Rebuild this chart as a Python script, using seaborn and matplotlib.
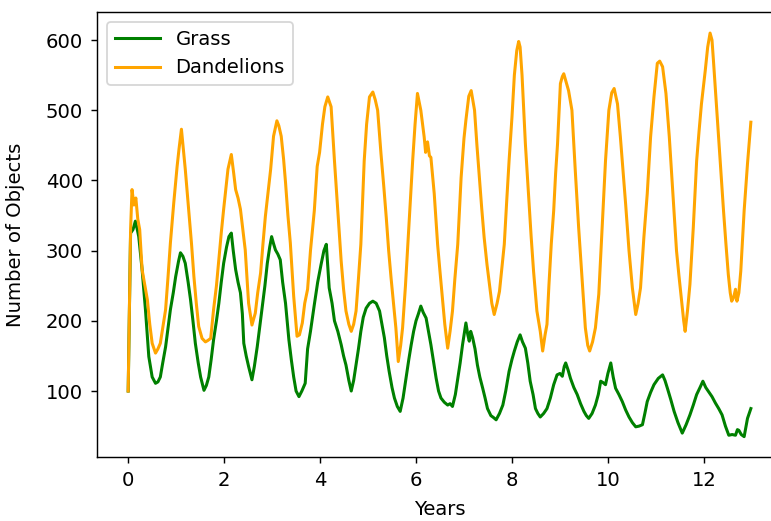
import matplotlib
matplotlib.use("Agg")
import matplotlib.pyplot as plt
import pandas as pd
import seaborn as sns

# Population counts over time (years) for the two species
grass_years = [
    0.00, 0.05, 0.10, 0.15, 0.19, 0.22, 0.29, 0.36, 0.43, 0.50, 0.57, 0.62, 0.67, 0.72, 0.78, 0.83,
    0.88, 0.94, 0.99, 1.05, 1.09, 1.14, 1.19, 1.25, 1.30, 1.35, 1.40, 1.46, 1.51, 1.58, 1.63, 1.68,
    1.73, 1.78, 1.84, 1.89, 1.94, 1.99, 2.05, 2.10, 2.15, 2.19, 2.24, 2.29, 2.34, 2.38, 2.41, 2.46,
    2.51, 2.58, 2.63, 2.69, 2.74, 2.79, 2.85, 2.90, 2.95, 2.99, 3.03, 3.07, 3.12, 3.17, 3.22, 3.28,
    3.35, 3.40, 3.45, 3.50, 3.56, 3.62, 3.69, 3.74, 3.80, 3.88, 3.95, 4.02, 4.08, 4.13, 4.19, 4.25,
    4.30, 4.37, 4.44, 4.49, 4.54, 4.60, 4.65, 4.70, 4.75, 4.80, 4.85, 4.90, 4.96, 5.03, 5.10, 5.17,
    5.24, 5.29, 5.34, 5.39, 5.44, 5.50, 5.55, 5.61, 5.67, 5.73, 5.79, 5.85, 5.90, 5.95, 6.00, 6.05,
    6.10, 6.15, 6.21, 6.26, 6.31, 6.37, 6.42, 6.47, 6.52, 6.59, 6.66, 6.71, 6.76, 6.82, 6.87, 6.92,
    6.97, 7.04, 7.08, 7.11, 7.14, 7.18, 7.23, 7.28, 7.33, 7.39, 7.44, 7.49, 7.56, 7.62, 7.67, 7.74,
    7.81, 7.87, 7.94, 8.00, 8.05, 8.11, 8.17, 8.22, 8.28, 8.33, 8.38, 8.44, 8.49, 8.54, 8.59, 8.66,
    8.73, 8.80, 8.87, 8.94, 9.00, 9.05, 9.09, 9.12, 9.17, 9.22, 9.29, 9.36, 9.43, 9.50, 9.55, 9.60,
    9.67, 9.74, 9.80, 9.85, 9.90, 9.95, 10.00, 10.06, 10.11, 10.16, 10.23, 10.30, 10.37, 10.44, 10.51,
    10.58, 10.65, 10.72, 10.77, 10.82, 10.89, 10.96, 11.05, 11.14, 11.19, 11.24, 11.31, 11.38, 11.46,
    11.55, 11.63, 11.71, 11.78, 11.85, 11.92, 11.98, 12.04, 12.10, 12.17, 12.24, 12.31, 12.38, 12.45,
    12.52, 12.59, 12.66, 12.70, 12.73, 12.78, 12.84, 12.91, 12.98,
]
grass_counts = [
    100, 325, 330, 342, 330, 320, 273, 216, 149, 120, 111, 113, 120, 140, 163, 190,
    216, 240, 263, 285, 297, 292, 282, 255, 230, 200, 168, 140, 120, 101, 108, 120,
    145, 173, 200, 225, 255, 282, 305, 320, 325, 300, 273, 255, 240, 210, 168, 150,
    135, 116, 135, 163, 190, 216, 250, 282, 305, 320, 310, 301, 295, 287, 255, 225,
    173, 145, 120, 100, 92, 100, 111, 160, 185, 223, 255, 280, 300, 309, 247, 225,
    200, 185, 166, 150, 137, 115, 100, 115, 137, 160, 185, 205, 218, 225, 228, 225,
    214, 195, 176, 150, 128, 105, 90, 78, 71, 90, 118, 145, 166, 185, 200, 210,
    221, 212, 204, 185, 166, 140, 118, 100, 90, 84, 80, 82, 78, 95, 118, 140,
    166, 197, 180, 171, 185, 176, 160, 137, 120, 104, 90, 75, 65, 62, 59, 68,
    80, 100, 128, 145, 157, 170, 180, 170, 161, 140, 114, 95, 75, 68, 63, 68,
    75, 90, 109, 123, 125, 121, 135, 140, 130, 118, 105, 95, 82, 71, 65, 61,
    68, 80, 95, 114, 112, 109, 125, 140, 120, 104, 95, 85, 73, 63, 55,
    49, 50, 52, 68, 85, 98, 109, 118, 123, 115, 104, 88, 71, 55,
    40, 52, 66, 80, 95, 105, 114, 105, 99, 92, 83, 75, 66, 50,
    37, 38, 37, 45, 44, 38, 35, 61, 75,
]

dandelion_years = [
    0.00, 0.05, 0.08, 0.12, 0.16, 0.20, 0.24, 0.29, 0.35, 0.40, 0.45, 0.50, 0.57, 0.62, 0.67, 0.72,
    0.78, 0.83, 0.88, 0.95, 1.02, 1.06, 1.11, 1.15, 1.19, 1.26, 1.32, 1.37, 1.42, 1.47, 1.54, 1.61,
    1.66, 1.72, 1.78, 1.84, 1.89, 1.94, 1.99, 2.04, 2.08, 2.15, 2.20, 2.24, 2.29, 2.34, 2.39, 2.44,
    2.51, 2.58, 2.65, 2.70, 2.76, 2.81, 2.86, 2.92, 2.97, 3.03, 3.10, 3.14, 3.19, 3.24, 3.28, 3.33,
    3.38, 3.45, 3.52, 3.57, 3.63, 3.68, 3.74, 3.80, 3.88, 3.94, 3.99, 4.05, 4.10, 4.16, 4.23, 4.30,
    4.37, 4.44, 4.49, 4.54, 4.60, 4.65, 4.70, 4.75, 4.80, 4.85, 4.92, 4.97, 5.03, 5.10, 5.15, 5.20,
    5.27, 5.33, 5.38, 5.43, 5.48, 5.58, 5.63, 5.68, 5.72, 5.78, 5.83, 5.88, 5.93, 5.98, 6.03, 6.10,
    6.17, 6.20, 6.24, 6.28, 6.31, 6.38, 6.45, 6.50, 6.55, 6.60, 6.66, 6.71, 6.76, 6.81, 6.87, 6.94,
    7.00, 7.04, 7.10, 7.15, 7.22, 7.27, 7.32, 7.37, 7.42, 7.48, 7.53, 7.58, 7.63, 7.69, 7.74, 7.79,
    7.84, 7.89, 7.94, 8.00, 8.05, 8.10, 8.14, 8.17, 8.21, 8.28, 8.35, 8.40, 8.45, 8.52, 8.59, 8.64,
    8.69, 8.73, 8.77, 8.82, 8.87, 8.91, 8.95, 9.01, 9.05, 9.08, 9.13, 9.18, 9.25, 9.32, 9.39, 9.46,
    9.53, 9.58, 9.62, 9.68, 9.74, 9.81, 9.88, 9.95, 10.02, 10.08, 10.13, 10.20, 10.26, 10.32, 10.37,
    10.44, 10.51, 10.58, 10.63, 10.68, 10.75, 10.82, 10.89, 10.96, 11.03, 11.08, 11.14, 11.21, 11.28,
    11.36, 11.43, 11.48, 11.53, 11.58, 11.61, 11.66, 11.71, 11.78, 11.85, 11.90, 11.95, 12.03, 12.08,
    12.13, 12.17, 12.20, 12.27, 12.34, 12.41, 12.46, 12.51, 12.55, 12.58, 12.62, 12.66, 12.69, 12.73,
    12.77, 12.84, 12.91, 12.98,
]
dandelion_counts = [
    100, 330, 387, 365, 375, 345, 330, 273, 250, 230, 195, 168, 154, 160, 168, 190,
    216, 262, 311, 368, 420, 445, 473, 445, 416, 359, 310, 263, 225, 192, 175, 170,
    172, 175, 216, 250, 287, 325, 359, 390, 416, 437, 410, 387, 375, 359, 330, 301,
    225, 194, 211, 240, 268, 310, 349, 385, 416, 463, 485, 478, 463, 430, 397, 350,
    311, 235, 178, 180, 197, 225, 245, 300, 357, 420, 440, 480, 505, 519, 505, 428,
    357, 285, 245, 214, 195, 185, 195, 214, 260, 309, 428, 480, 519, 526, 515, 500,
    438, 390, 347, 300, 261, 190, 142, 165, 190, 250, 309, 370, 428, 480, 524, 500,
    462, 440, 455, 435, 433, 381, 309, 270, 233, 195, 161, 185, 214, 260, 309, 404,
    460, 486, 520, 528, 500, 450, 404, 360, 319, 280, 252, 225, 209, 225, 242, 275,
    309, 370, 428, 490, 550, 585, 598, 590, 550, 452, 376, 320, 271, 214, 185, 157,
    180, 195, 250, 310, 357, 410, 452, 538, 548, 552, 540, 528, 500, 414, 333, 261,
    190, 165, 157, 170, 190, 238, 333, 428, 500, 525, 531, 509, 462, 410, 366,
    300, 247, 209, 225, 247, 319, 381, 462, 519, 567, 570, 562, 524, 462,
    376, 300, 265, 233, 200, 185, 215, 252, 333, 428, 470, 509, 557, 590,
    610, 600, 571, 500, 428, 357, 310, 266, 240, 228, 233, 245, 228, 240,
    271, 357, 424, 483,
]

species = ["Grass", "Dandelions"]
colors = ["green", "orange"]

df = pd.concat([
    pd.DataFrame({"Years": grass_years, "Number of Objects": grass_counts, "Species": species[0]}),
    pd.DataFrame({"Years": dandelion_years, "Number of Objects": dandelion_counts, "Species": species[1]}),
], ignore_index=True)

plt.rcParams["font.family"] = ["DejaVu Sans"]
plt.rcParams["font.size"] = 11
plt.rcParams["xtick.major.pad"] = 4.3
plt.rcParams["ytick.major.pad"] = 4.3

DPI = 128.5
fig = plt.figure(figsize=(771 / DPI, 521 / DPI), dpi=DPI)
# The axes run slightly past the right edge of the canvas
ax = fig.add_axes([97 / 771, 64 / 521, 686 / 771, 445 / 521])

sns.lineplot(
    data=df, x="Years", y="Number of Objects", hue="Species",
    hue_order=species, palette=dict(zip(species, colors)),
    estimator=None, sort=False, linewidth=1.7, ax=ax,
)

ax.set_xlim(-0.65, 13.65)
ax.set_ylim(6, 640)
ax.set_xticks([0, 2, 4, 6, 8, 10, 12])
ax.set_yticks([100, 200, 300, 400, 500, 600])
ax.set_xlabel("Years")
ax.set_ylabel("Number of Objects")
ax.yaxis.set_label_coords(-0.105, 0.5)
ax.xaxis.set_label_coords(0.5, -0.097)

handles, labels = ax.get_legend_handles_labels()
ax.legend(handles, labels, loc="upper left", handlelength=2.3)

fig.savefig("out.png", dpi=DPI)
